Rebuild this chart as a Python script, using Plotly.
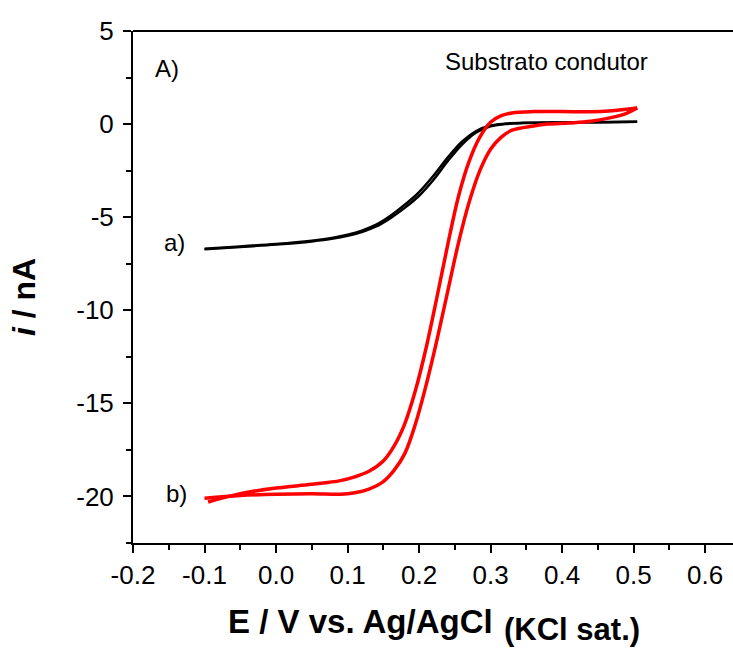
import plotly.graph_objects as go

# curve a (black): two nearly coincident scans
E_a = [-0.1, -0.05, 0.0, 0.05, 0.08, 0.1, 0.12, 0.14, 0.16, 0.18, 0.2, 0.22, 0.24, 0.26, 0.28, 0.30, 0.32, 0.35, 0.40, 0.45, 0.505]
I_a_fwd = [-6.72, -6.6, -6.47, -6.3, -6.15, -6.0, -5.8, -5.5, -5.05, -4.5, -3.85, -3.0, -2.0, -1.1, -0.45, -0.12, 0.0, 0.06, 0.09, 0.1, 0.12]
I_a_rev = [-6.70, -6.57, -6.44, -6.26, -6.1, -5.94, -5.72, -5.4, -4.92, -4.33, -3.65, -2.78, -1.8, -0.95, -0.37, -0.08, 0.02, 0.07, 0.09, 0.1, 0.12]

# curve b (red): cyclic voltammogram, two branches
E_b_L = [-0.095, -0.05, 0.0, 0.05, 0.09, 0.11, 0.13, 0.15, 0.165, 0.18, 0.195, 0.21, 0.225, 0.24, 0.255, 0.27, 0.285, 0.30, 0.315, 0.33, 0.36, 0.40, 0.44, 0.47, 0.49, 0.505]
I_b_L = [-20.3, -19.85, -19.55, -19.35, -19.15, -18.95, -18.65, -18.1, -17.3, -16.1, -14.3, -12.0, -9.3, -6.5, -3.9, -2.0, -0.7, 0.1, 0.45, 0.6, 0.67, 0.67, 0.66, 0.72, 0.8, 0.87]
E_b_R = [-0.1, -0.05, 0.0, 0.05, 0.09, 0.11, 0.13, 0.15, 0.165, 0.18, 0.195, 0.21, 0.225, 0.24, 0.255, 0.27, 0.285, 0.30, 0.315, 0.33, 0.36, 0.38, 0.41, 0.44, 0.47, 0.49, 0.505]
I_b_R = [-20.1, -19.95, -19.88, -19.85, -19.88, -19.8, -19.6, -19.2, -18.6, -17.7, -16.1, -14.0, -11.6, -9.0, -6.4, -4.2, -2.5, -1.35, -0.7, -0.33, -0.1, 0.0, 0.06, 0.15, 0.36, 0.58, 0.87]

x_ticks = [-0.2, -0.1, 0.0, 0.1, 0.2, 0.3, 0.4, 0.5, 0.6]
y_ticks = [5, 0, -5, -10, -15, -20]

FONT = "Liberation Sans, Arial, sans-serif"

fig = go.Figure()
fig.add_trace(go.Scatter(x=E_a, y=I_a_fwd, mode="lines", line=dict(color="black", width=2.5, shape="spline", smoothing=1.0)))
fig.add_trace(go.Scatter(x=E_a, y=I_a_rev, mode="lines", line=dict(color="black", width=2.5, shape="spline", smoothing=1.0)))
fig.add_trace(go.Scatter(x=E_b_L, y=I_b_L, mode="lines", line=dict(color="#ff0000", width=3.5, shape="spline", smoothing=1.0)))
fig.add_trace(go.Scatter(x=E_b_R, y=I_b_R, mode="lines", line=dict(color="#ff0000", width=3.5, shape="spline", smoothing=1.0)))

fig.update_layout(
    width=733, height=648,
    margin=dict(l=133, r=0, t=31, b=105),
    paper_bgcolor="white", plot_bgcolor="white",
    showlegend=False,
    font=dict(family=FONT, color="black", size=26),
    xaxis=dict(range=[-0.2, 0.639], tickvals=x_ticks, ticktext=[f"{v:.1f}" for v in x_ticks],
               showgrid=False, zeroline=False, showline=True, linecolor="black", linewidth=2,
               ticks="outside", ticklen=8, tickwidth=2, tickcolor="black",
               minor=dict(ticks="outside", ticklen=5, tickwidth=2, tickcolor="black", dtick=0.05, tick0=0.05, showgrid=False),
               tickfont=dict(size=26)),
    yaxis=dict(range=[-22.5, 5], tickvals=y_ticks, ticktext=[str(v) for v in y_ticks],
               showgrid=False, zeroline=False, showline=True, linecolor="black", linewidth=2,
               ticks="outside", ticklen=8, tickwidth=2, tickcolor="black",
               minor=dict(ticks="outside", ticklen=5, tickwidth=2, tickcolor="black", dtick=2.5, tick0=2.5, showgrid=False),
               tickfont=dict(size=26), ticklabelstandoff=4),
    shapes=[dict(type="line", xref="paper", yref="paper", x0=0, x1=1, y0=1, y1=1,
                 line=dict(color="black", width=2))],
)

def px_x(px):
    return (px - 133) / 600.0

def px_y(py):
    return (543 - py) / 512.0

ann = [
    dict(text="A)", x=px_x(153), y=px_y(68), xanchor="left", yanchor="middle", font=dict(size=24)),
    dict(text="Substrato condutor", x=px_x(443), y=px_y(61), xanchor="left", yanchor="middle", font=dict(size=24)),
    dict(text="a)", x=px_x(162), y=px_y(242), xanchor="left", yanchor="middle", font=dict(size=24)),
    dict(text="b)", x=px_x(164), y=px_y(493), xanchor="left", yanchor="middle", font=dict(size=24)),
    dict(text="<b>E / V vs. Ag/AgCl</b>", x=px_x(226), y=px_y(621), xanchor="left", yanchor="middle", font=dict(size=33)),
    dict(text="<b>(KCl sat.)</b>", x=px_x(502), y=px_y(629), xanchor="left", yanchor="middle", font=dict(size=31)),
    dict(text="<b><i>i</i> / nA</b>", x=px_x(24), y=px_y(297), xanchor="center", yanchor="middle", textangle=-90, font=dict(size=32)),
]
for a in ann:
    a.update(xref="paper", yref="paper", showarrow=False)
fig.update_layout(annotations=ann)

fig.write_html("out.html")
